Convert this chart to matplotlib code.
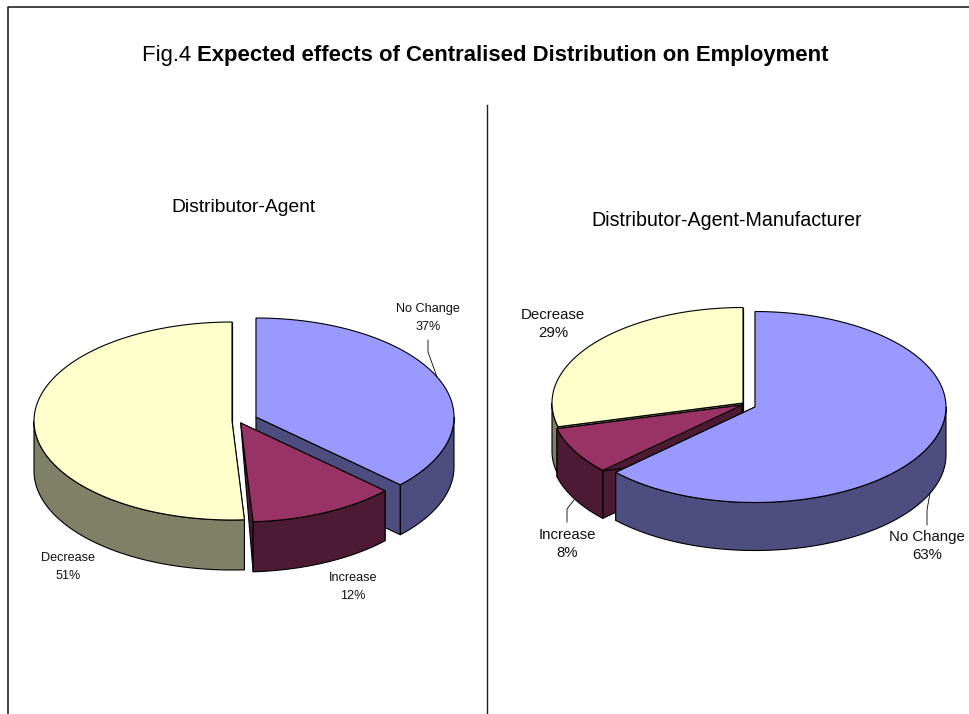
#!/usr/bin/python
import numpy as np
import matplotlib
matplotlib.use('Agg')
import matplotlib.pyplot as plt

plt.rcParams['font.family'] = ['Liberation Sans', 'DejaVu Sans']

#---------- data ------------------------------------------
categories = ['No Change', 'Increase', 'Decrease']
shares_agent = [37, 12, 51]
shares_manuf = [63, 8, 29]

#---------- colours -------------------
top_colors = ['#9999FF', '#993366', '#FFFFCC']
wall_colors = ['#4D4D80', '#4D1A33', '#808066']

W = 969
H = 714


def rim(cx, cy, rx, ry, a0, a1, dy=0):
    # angles clockwise from 12 o'clock, in degrees
    th = np.radians(np.linspace(a0, a1, 80))
    return np.column_stack([cx + rx*np.sin(th), cy - ry*np.cos(th) + dy])


def draw_slice(ax, apex, rx, ry, depth, a0, a1, top, wall, taper=False):
    cx, cy = apex
    lw = 0.8
    # cut faces first, whatever is hidden gets covered by the top
    for a in (a0, a1):
        end = rim(cx, cy, rx, ry, a, a)[0]
        if taper:
            pts = [apex, end, (end[0], end[1]+depth)]
        else:
            pts = [apex, end, (end[0], end[1]+depth), (cx, cy+depth)]
        ax.fill(*zip(*pts), facecolor=wall, edgecolor='k', lw=lw, joinstyle='round')
    # outer wall, only the front half shows
    w0 = max(a0, 90)
    w1 = min(a1, 270)
    if w1 > w0:
        upper = rim(cx, cy, rx, ry, w0, w1)
        lower = rim(cx, cy, rx, ry, w1, w0, depth)
        pts = np.vstack([upper, lower])
        ax.fill(pts[:, 0], pts[:, 1], facecolor=wall, edgecolor='k', lw=lw)
    pts = np.vstack([[apex], rim(cx, cy, rx, ry, a0, a1)])
    ax.fill(pts[:, 0], pts[:, 1], facecolor=top, edgecolor='k', lw=lw)


def draw_pie(ax, shares, apexes, rx, ry, depth, order, tapered=()):
    edges = np.cumsum([0] + shares) * 3.6
    for i in order:
        draw_slice(ax, apexes[i], rx, ry, depth, edges[i], edges[i+1],
                   top_colors[i], wall_colors[i], i in tapered)


def pie_label(ax, x, y, name, share, size, gap):
    ax.text(x, y, name+'\n'+str(share)+'%', ha='center', va='center', size=size,
            linespacing=gap, color='#111111')


fig = plt.figure(figsize=(W/100.0, H/100.0), dpi=100)
ax = fig.add_axes([0, 0, 1, 1])
ax.set_xlim(0, W)
ax.set_ylim(H, 0)
ax.axis('off')

# frame, open on the right and the bottom
ax.plot([8.5, 8.5, W], [H, 6.5, 6.5], color='#111111', lw=1.1)
ax.plot([487, 487], [105, H], color='#222222', lw=1.0)

# title
t = ax.text(142, 56, 'Fig.4 ', size=15.9, va='center', ha='left')
fig.canvas.draw()
bb = t.get_window_extent()
ax.text(bb.x1, 56, 'Expected effects of Centralised Distribution on Employment',
        size=15.9, weight='bold', va='center', ha='left')

ax.text(243, 208, 'Distributor-Agent', size=13.9, ha='center', va='center')
ax.text(727, 221, 'Distributor-Agent-Manufacturer', size=14.1, ha='center', va='center')

# left pie
draw_pie(ax, shares_agent, [(256, 417), (240.7, 423), (232, 421)], 198, 99, 50,
         [2, 0, 1], tapered=(1,))
pie_label(ax, 428, 318, categories[0], shares_agent[0], 9.1, 1.75)
pie_label(ax, 353, 587, categories[1], shares_agent[1], 9.1, 1.75)
pie_label(ax, 68, 567, categories[2], shares_agent[2], 9.1, 1.75)
ax.plot([428, 428, 437], [340, 352, 377], color='k', lw=0.6)

# right pie
draw_pie(ax, shares_manuf, [(755, 407), (742, 405), (743, 403)], 191, 95.5, 48,
         [2, 1, 0])
pie_label(ax, 927, 546, categories[0], shares_manuf[0], 10.8, 1.4)
pie_label(ax, 567, 544, categories[1], shares_manuf[1], 10.8, 1.4)
pie_label(ax, 553, 324, categories[2], shares_manuf[2], 10.8, 1.4)
ax.plot([567, 567, 574], [522, 509, 500], color='k', lw=0.6)
ax.plot([927, 927, 930], [525, 510, 493], color='k', lw=0.6)

plt.savefig('out.png', dpi=100)
